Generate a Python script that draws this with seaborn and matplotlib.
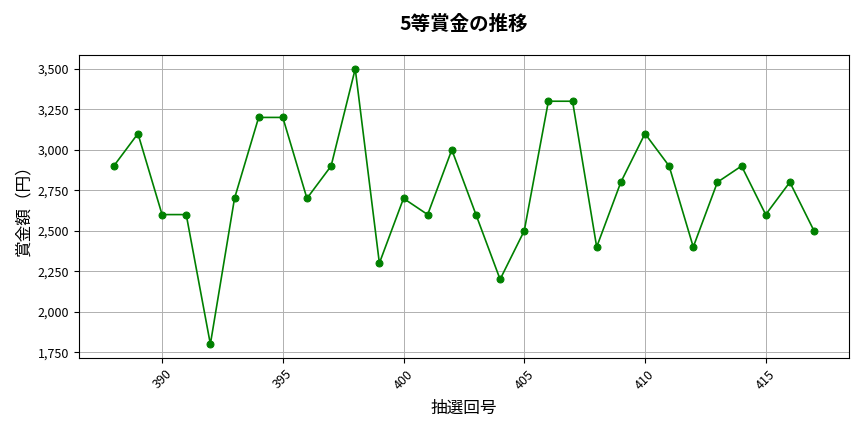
import matplotlib
matplotlib.use("Agg")
import matplotlib.pyplot as plt
import matplotlib.ticker as mticker
import seaborn as sns
import pandas as pd

# Data
draw_no = list(range(388, 418))
prize = [2900, 3100, 2600, 2600, 1800, 2700, 3200, 3200, 2700, 2900,
         3500, 2300, 2700, 2600, 3000, 2600, 2200, 2500, 3300, 3300,
         2400, 2800, 3100, 2900, 2400, 2800, 2900, 2600, 2800, 2500]

df = pd.DataFrame({"抽選回号": draw_no, "賞金額": prize})

plt.rcParams['font.family'] = ['Noto Sans CJK JP', 'DejaVu Sans']

fig, ax = plt.subplots(figsize=(8.64, 4.32), dpi=100)
sns.lineplot(data=df, x="抽選回号", y="賞金額", color="green", marker="o",
             markersize=5, markeredgecolor="green", linewidth=1.2, ax=ax)

ax.set_title("5等賞金の推移", fontsize=14, fontweight="bold", pad=18)
ax.set_xlabel("抽選回号", fontsize=12, labelpad=6)
ax.set_ylabel("賞金額（円）", fontsize=12)
ax.yaxis.set_major_formatter(mticker.FuncFormatter(lambda v, p: f"{int(v):,}"))
ax.yaxis.set_major_locator(mticker.MultipleLocator(250))
ax.xaxis.set_major_locator(mticker.MultipleLocator(5))
ax.tick_params(axis="x", rotation=45, labelsize=9)
ax.tick_params(axis="y", labelsize=9)
ax.grid(True, color="#b0b0b0", linewidth=0.7)

fig.tight_layout()
fig.savefig("out.png")
